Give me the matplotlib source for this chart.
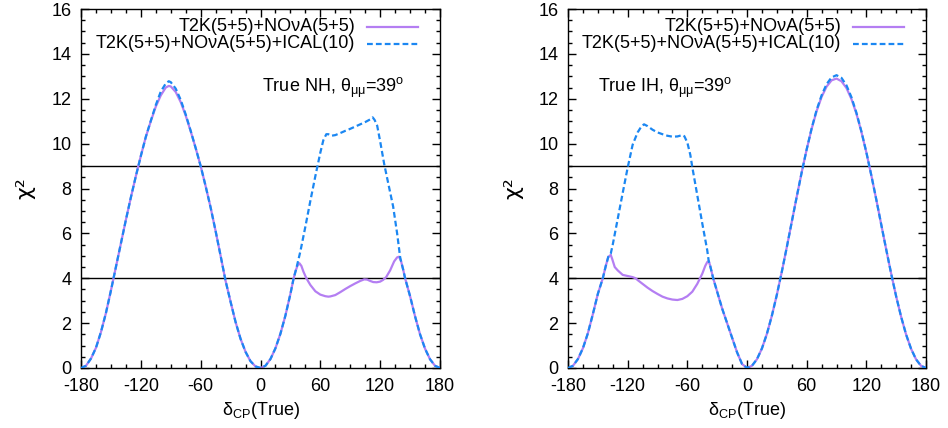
import matplotlib.pyplot as plt
from matplotlib.ticker import MultipleLocator

plt.rcParams['font.family'] = 'Liberation Sans'
plt.rcParams['mathtext.fontset'] = 'custom'
plt.rcParams['mathtext.rm'] = 'Liberation Sans'
plt.rcParams['mathtext.it'] = 'Liberation Sans'
plt.rcParams['mathtext.bf'] = 'Liberation Sans:bold'
plt.rcParams['axes.unicode_minus'] = False

# ----- data ---------------------------------------------------------

labels = ['T2K(5+5)+NOνA(5+5)', 'T2K(5+5)+NOνA(5+5)+ICAL(10)']
notes = [r'True NH, $\theta_{\mu\mu}$=39$^{\rm o}$',
         r'True IH, $\theta_{\mu\mu}$=39$^{\rm o}$']
hlines = [4, 9]
xticks = [-180, -120, -60, 0, 60, 120, 180]

# true NH, T2K+NOvA
nh_a_x = [-180, -175, -170, -165, -160, -155, -150, -145, -140, -135,
          -130, -125, -120, -115, -110, -105, -100, -95, -92, -90,
          -85, -80, -75, -70, -65, -60, -55, -50, -45, -40,
          -35, -30, -25, -20, -15, -10, -5, 0, 5, 10,
          15, 20, 25, 30, 33, 35, 37, 39, 41, 43,
          46, 50, 55, 60, 65, 68, 70, 75, 80, 85,
          90, 95, 100, 104, 107, 110, 113, 116.5, 120, 123,
          126, 130, 134, 137, 139, 141, 143, 145, 150, 155,
          160, 165, 170, 175, 180]
nh_a_y = [0, 0.1, 0.42, 0.9, 1.6, 2.45, 3.45, 4.5, 5.55, 6.6,
          7.6, 8.55, 9.45, 10.3, 11.0, 11.65, 12.15, 12.5, 12.57, 12.55,
          12.3, 11.85, 11.25, 10.55, 9.8, 9.0, 8.1, 7.15, 6.1, 5.0,
          3.88, 2.95, 2.05, 1.3, 0.72, 0.3, 0.07, 0, 0.1, 0.4,
          0.88, 1.53, 2.34, 3.3, 3.95, 4.3, 4.55, 4.67, 4.55, 4.3,
          4.0, 3.7, 3.42, 3.27, 3.2, 3.18, 3.19, 3.25, 3.38, 3.52,
          3.65, 3.77, 3.88, 3.95, 3.94, 3.88, 3.83, 3.82, 3.85, 3.93,
          4.05, 4.35, 4.75, 4.93, 4.96, 4.75, 4.4, 4.0, 3.2, 2.3,
          1.5, 0.86, 0.39, 0.1, 0]

# true NH, T2K+NOvA+ICAL
nh_b_x = [-180, -175, -170, -165, -160, -155, -150, -145, -140, -135,
          -130, -125, -120, -115, -110, -105, -100, -95, -92, -90,
          -85, -80, -75, -70, -65, -60, -55, -50, -45, -40,
          -35, -30, -25, -20, -15, -10, -5, 0, 5, 10,
          15, 20, 25, 30, 33, 36, 40, 45, 50, 55,
          60, 63, 66, 68, 71, 75, 80, 85, 90, 95,
          100, 105, 110, 112.5, 114.5, 117, 120, 124, 128, 133,
          137, 140, 141, 143, 145, 150, 155, 160, 165, 170,
          175, 180]
nh_b_y = [0, 0.1, 0.42, 0.9, 1.6, 2.45, 3.45, 4.5, 5.55, 6.6,
          7.6, 8.55, 9.45, 10.3, 11.02, 11.72, 12.32, 12.68, 12.78, 12.74,
          12.45, 11.95, 11.3, 10.57, 9.8, 9.0, 8.1, 7.15, 6.1, 5.0,
          3.88, 2.95, 2.05, 1.3, 0.72, 0.3, 0.07, 0, 0.1, 0.4,
          0.88, 1.53, 2.34, 3.3, 3.95, 4.45, 5.2, 6.3, 7.45, 8.55,
          9.6, 10.15, 10.42, 10.42, 10.35, 10.38, 10.47, 10.57, 10.66, 10.76,
          10.86, 10.96, 11.08, 11.17, 11.05, 10.8, 10.1, 9.1, 8.25, 7.2,
          6.0, 4.95, 4.75, 4.4, 4.0, 3.2, 2.3, 1.5, 0.86, 0.39,
          0.1, 0]

# true IH, T2K+NOvA
ih_a_x = [-180, -175, -170, -165, -160, -155, -150, -145, -142, -139.5,
          -137, -135.5, -133, -130, -125, -120, -115, -112, -110, -105,
          -100, -95, -90, -85, -80, -75, -70, -65, -60, -55,
          -50, -45, -42, -40, -38.5, -37, -34, -30, -25, -20,
          -15, -10, -5, 0, 5, 10, 15, 20, 25, 30,
          35, 40, 45, 50, 55, 60, 65, 70, 75, 80,
          85, 90, 95, 100, 105, 110, 115, 120, 125, 130,
          135, 140, 145, 150, 155, 160, 165, 170, 175, 180]
ih_a_y = [0, 0.1, 0.4, 0.88, 1.55, 2.4, 3.3, 4.0, 4.55, 4.95,
          5.04, 4.85, 4.5, 4.35, 4.15, 4.1, 4.05, 4.0, 3.92, 3.75,
          3.58, 3.43, 3.3, 3.18, 3.1, 3.05, 3.03, 3.08, 3.2, 3.4,
          3.75, 4.2, 4.55, 4.72, 4.77, 4.55, 4.0, 3.4, 2.65, 2.0,
          1.35, 0.7, 0.18, 0, 0.1, 0.39, 0.87, 1.52, 2.33, 3.26,
          4.29, 5.38, 6.51, 7.63, 8.72, 9.74, 10.66, 11.45, 12.08, 12.54,
          12.82, 12.9, 12.78, 12.48, 11.99, 11.34, 10.53, 9.61, 8.59, 7.51,
          6.39, 5.28, 4.2, 3.19, 2.28, 1.49, 0.855, 0.385, 0.097, 0]

# true IH, T2K+NOvA+ICAL
ih_b_x = [-180, -175, -170, -165, -160, -155, -150, -145, -142, -139.5,
          -137, -135, -130, -125, -120, -115, -110, -106, -103.5, -100,
          -95, -90, -85, -80, -75, -70, -65, -63, -60, -57,
          -55, -50, -45, -40, -38.5, -37, -34, -30, -25, -20,
          -15, -10, -5, 0, 5, 10, 15, 20, 25, 30,
          35, 40, 45, 50, 55, 60, 65, 70, 75, 80,
          85, 90, 95, 100, 105, 110, 115, 120, 125, 130,
          135, 140, 145, 150, 155, 160, 165, 170, 175, 180]
ih_b_y = [0, 0.1, 0.4, 0.88, 1.55, 2.4, 3.3, 4.0, 4.55, 4.95,
          5.1, 5.5, 6.65, 7.8, 8.93, 9.95, 10.5, 10.78, 10.86, 10.78,
          10.62, 10.5, 10.42, 10.35, 10.31, 10.32, 10.38, 10.33, 10.05, 9.5,
          8.95, 7.7, 6.45, 5.25, 4.77, 4.55, 4.0, 3.4, 2.65, 2.0,
          1.35, 0.7, 0.18, 0, 0.1, 0.39, 0.87, 1.52, 2.33, 3.26,
          4.29, 5.38, 6.51, 7.63, 8.72, 9.74, 10.68, 11.5, 12.15, 12.65,
          12.95, 13.05, 12.93, 12.6, 12.07, 11.38, 10.55, 9.62, 8.59, 7.51,
          6.39, 5.28, 4.2, 3.19, 2.28, 1.49, 0.855, 0.385, 0.097, 0]

PURPLE = '#b47ef2'
BLUE = '#1b87f2'
FS = 13

# ----- plot ---------------------------------------------------------

fig = plt.figure(figsize=(9.48, 4.28), dpi=100)
ax1 = fig.add_axes([81/948, 60/428, 359/948, 359/428])
ax2 = fig.add_axes([568/948, 60/428, 358/948, 359/428])


def panel(ax, xa, ya, xb, yb, note, note_x):
    for h in hlines:
        ax.axhline(h, color='black', lw=1.0, zorder=1)
    ax.plot(xa, ya, color=PURPLE, lw=1.6, zorder=2)
    ax.plot(xb, yb, color=BLUE, lw=1.6, dashes=(2.6, 1.4), zorder=3)

    # legend drawn by hand so the labels are right aligned
    for i, (lab, col) in enumerate(zip(labels, [PURPLE, BLUE])):
        yy = 0.950 - i * 0.047
        ax.text(0.763, yy, lab, transform=ax.transAxes, ha='right',
                va='center', fontsize=FS)
        ls = '-' if i == 0 else (0, (2.6, 1.4))
        ax.plot([0.797, 0.939], [yy, yy], transform=ax.transAxes,
                color=col, lw=1.6, linestyle=ls)

    ax.text(note_x, 0.78, note, transform=ax.transAxes, ha='left',
            va='center', fontsize=FS)

    ax.set_xlim(-180, 180)
    ax.set_ylim(0, 16)
    ax.set_xticks(xticks)
    ax.xaxis.set_minor_locator(MultipleLocator(15))
    ax.yaxis.set_major_locator(MultipleLocator(2))
    ax.yaxis.set_minor_locator(MultipleLocator(0.5))
    ax.tick_params(which='both', direction='in', top=True, right=True,
                   labelsize=FS, pad=7)
    ax.tick_params(which='major', length=6, width=1)
    ax.tick_params(which='minor', length=3, width=1)
    for s in ax.spines.values():
        s.set_linewidth(1.0)
    ax.set_xlabel(r'$\delta_{\rm CP}$(True)', fontsize=FS, labelpad=4)
    ax.set_ylabel('χ²', family='DejaVu Sans', fontsize=16, labelpad=11)


panel(ax1, nh_a_x, nh_a_y, nh_b_x, nh_b_y, notes[0], 0.503)
panel(ax2, ih_a_x, ih_a_y, ih_b_x, ih_b_y, notes[1], 0.084)

fig.savefig('out.png', dpi=100)
